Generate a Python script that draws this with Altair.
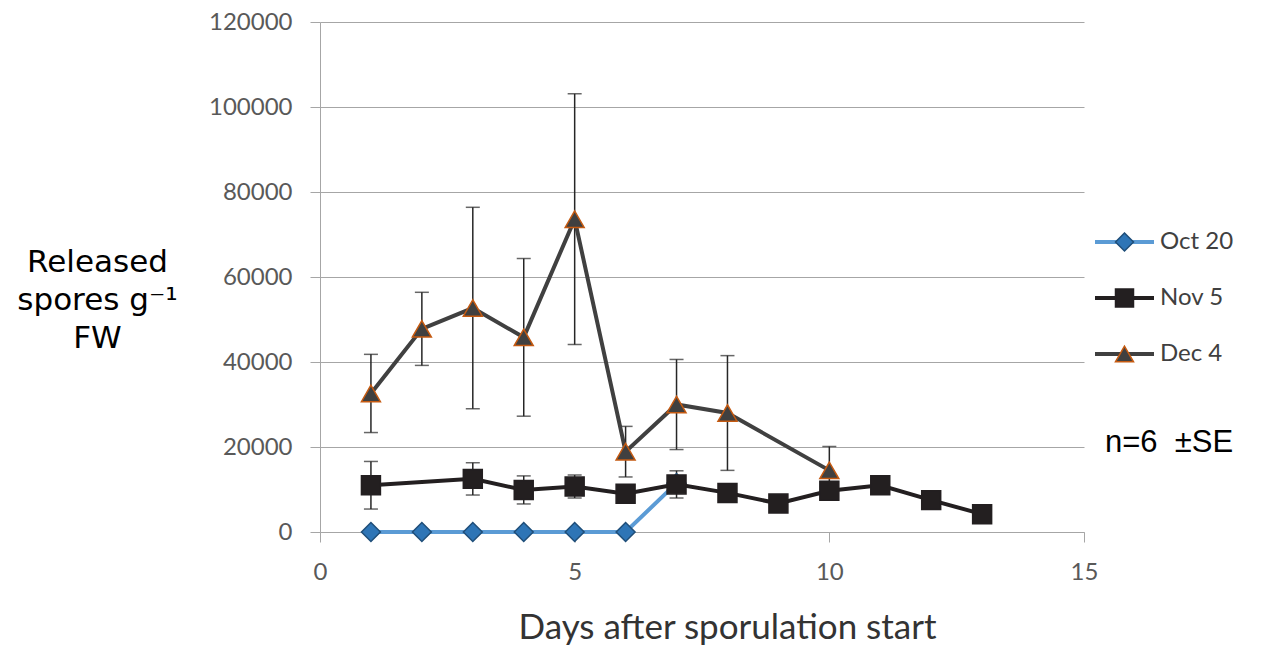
import altair as alt
import pandas as pd

series_names = ["Oct 20", "Nov 5", "Dec 4"]

oct_days = [1, 2, 3, 4, 5, 6, 7]
oct_vals = [0, 0, 0, 0, 0, 0, 11500]
oct_se = [None, None, None, None, None, None, None]

nov_days = [1, 3, 4, 5, 6, 7, 8, 9, 10, 11, 12, 13]
nov_vals = [11000, 12500, 9900, 10700, 9000, 11200, 9200, 6700, 9700, 11000, 7500, 4200]
nov_se = [5600, 3800, 3300, 2700, None, 3200, None, None, None, None, None, None]

dec_days = [1, 2, 3, 4, 5, 6, 7, 8, 10]
dec_vals = [32600, 47800, 52700, 45800, 73600, 18900, 30000, 28000, 14500]
dec_se = [9200, 8600, 23700, 18550, 29500, 5950, 10600, 13500, 5600]

y_ticks = [0, 20000, 40000, 60000, 80000, 100000, 120000]
x_ticks = [0, 5, 10, 15]

line_colors = ["#5B9BD5", "#231F20", "#404040"]
fill_colors = ["#2E75B6", "#231F20", "#404040"]
stroke_colors = ["#1F4E79", "#231F20", "#C55A11"]
shapes = ["diamond", "square", "triangle-up"]

# line-legend labels (trailing space keeps the line legend separate from the marker legend)
line_names = [n + " " for n in series_names]

rows = []
for name, lname, days, vals, ses in [
    ("Oct 20", line_names[0], oct_days, oct_vals, oct_se),
    ("Nov 5", line_names[1], nov_days, nov_vals, nov_se),
    ("Dec 4", line_names[2], dec_days, dec_vals, dec_se),
]:
    for d, v, s in zip(days, vals, ses):
        rows.append({
            "series": name, "sl": lname, "day": d, "value": v,
            "se": s,
            "lo": None if s is None else v - s,
            "hi": None if s is None else v + s,
        })
df = pd.DataFrame(rows)
err_df = df[df["se"].notna()].copy()

xscale = alt.Scale(domain=[0, 15], nice=False)
yscale = alt.Scale(domain=[0, 120000], nice=False)

xaxis = alt.Axis(
    values=x_ticks, grid=False, title="Days after sporulation start",
    labelFlush=False, labelOverlap=False,
    titleFont="Lato", titleFontSize=35, titleColor="#333333",
    titleX=407, titleY=106, titleAlign="center", titleBaseline="alphabetic",
)
yaxis = alt.Axis(
    values=y_ticks, format="d", grid=True,
    title=["Released", "spores g\u207b\u00b9", "FW"],
    labelFlush=False, labelOverlap=False,
    titleAngle=0, titleFont="DejaVu Sans", titleFontSize=31, titleColor="#000000",
    titleLineHeight=38, titleAlign="center", titleBaseline="middle",
    titleX=-223, titleY=240,
)

line_legend = alt.Legend(
    title=None, orient="none", legendX=773, legendY=210, padding=0,
    symbolType="stroke", symbolSize=3481, symbolStrokeWidth=4,
    clipHeight=20, rowPadding=32,
    labelFont="Lato", labelFontSize=24, labelColor="#404040", labelOffset=4,
)
pt_legend = alt.Legend(
    title=None, orient="none", legendX=773, legendY=210, padding=0,
    symbolSize=324, symbolStrokeWidth=1.5, symbolOffset=19.5, symbolOpacity=1,
    clipHeight=20, rowPadding=32,
    labelFont="Lato", labelFontSize=24, labelExpr="''",
)

err_base = alt.Chart(err_df)
rules = err_base.mark_rule(color="#262626", strokeWidth=1.5).encode(
    x=alt.X("day:Q", scale=xscale, axis=xaxis),
    y=alt.Y("lo:Q", scale=yscale, axis=yaxis),
    y2="hi:Q",
)
caps_lo = err_base.mark_tick(color="#262626", thickness=1.5, size=14, orient="horizontal").encode(
    x=alt.X("day:Q", scale=xscale, axis=xaxis),
    y=alt.Y("lo:Q", scale=yscale, axis=yaxis),
)
caps_hi = err_base.mark_tick(color="#262626", thickness=1.5, size=14, orient="horizontal").encode(
    x=alt.X("day:Q", scale=xscale, axis=xaxis),
    y=alt.Y("hi:Q", scale=yscale, axis=yaxis),
)

base = alt.Chart(df)
lines = base.mark_line(strokeWidth=4).encode(
    x=alt.X("day:Q", scale=xscale, axis=xaxis),
    y=alt.Y("value:Q", scale=yscale, axis=yaxis),
    color=alt.Color("sl:N", scale=alt.Scale(domain=line_names, range=line_colors), legend=line_legend),
    order="day:Q",
)
points = base.mark_point(size=360, opacity=1, fillOpacity=1, strokeWidth=1.5).encode(
    x=alt.X("day:Q", scale=xscale, axis=xaxis),
    y=alt.Y("value:Q", scale=yscale, axis=yaxis),
    shape=alt.Shape("series:N", scale=alt.Scale(domain=series_names, range=shapes), legend=pt_legend),
    fill=alt.Fill("series:N", scale=alt.Scale(domain=series_names, range=fill_colors), legend=pt_legend),
    stroke=alt.Stroke("series:N", scale=alt.Scale(domain=series_names, range=stroke_colors), legend=pt_legend),
)

note = alt.Chart(pd.DataFrame({"t": ["n=6\u00a0\u00a0\u00b1SE"]})).mark_text(
    font="Liberation Sans", fontSize=31, color="#000000", align="left", baseline="middle"
).encode(
    x=alt.value(785), y=alt.value(421), text="t:N"
)

chart = alt.layer(rules, caps_lo, caps_hi, lines, points, note).properties(
    width=764, height=510,
    padding={"left": 312, "top": 14, "right": 176, "bottom": 114},
    autosize=alt.AutoSizeParams(type="none"),
).configure_axis(
    labelFont="Lato", labelFontSize=24, labelColor="#595959",
    domainColor="#A6A6A6", tickColor="#A6A6A6", gridColor="#A6A6A6",
    tickSize=10, labelPadding=18, titleFontWeight="normal",
).configure_view(stroke="transparent")

chart.save("out.html", embed_options={"renderer": "svg", "actions": False})
